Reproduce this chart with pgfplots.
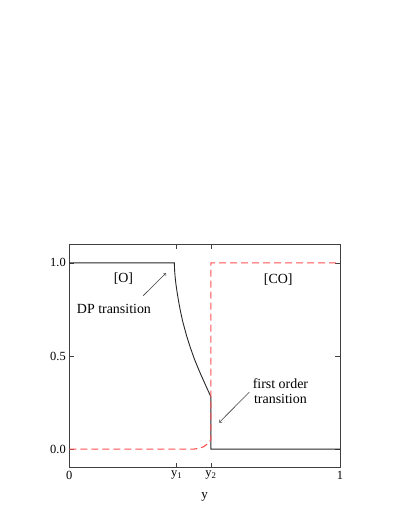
\documentclass[border=0pt]{standalone}
\usepackage{fontspec}
\setmainfont{Liberation Serif}
\usepackage{pgfplots}
\pgfplotsset{compat=1.18}
\definecolor{codash}{HTML}{FF5050}

\begin{document}
\begin{tikzpicture}
\useasboundingbox (0,0) rectangle (409bp,529bp);
\begin{axis}[
    at={(69.3bp,61.3bp)}, anchor=south west,
    width=270.7bp, height=223.4bp, scale only axis,
    xmin=0, xmax=1, ymin=-0.1, ymax=1.1,
    xtick={0,0.397,0.523,1},
    xticklabels={0,y\textsubscript{1},y\textsubscript{2},1},
    ytick={0,0.5,1},
    yticklabels={0.0,0.5,1.0},
    tick align=inside,
    major tick length=5bp,
    tick style={black!75, line width=0.6bp},
    tick label style={font=\fontsize{12.5}{14}\selectfont},
    axis line style={black!75, line width=0.8bp},
    xlabel={y},
    xlabel style={font=\fontsize{13}{15}\selectfont, at={(axis description cs:0.5,0)}, anchor=center, yshift=-29bp},
    clip=false,
]
% black: order parameter [O]
\addplot[black!85, line width=0.9bp] coordinates {
    (0,1) (0.388,1) (0.389,0.96) (0.391,0.924) (0.394,0.885) (0.398,0.845)
    (0.403,0.80) (0.410,0.745) (0.419,0.685) (0.433,0.61) (0.446,0.55)
    (0.463,0.48) (0.483,0.41) (0.503,0.345) (0.520,0.29) (0.523,0.28)
    (0.523,0) (1,0)
};
% red dashed: [CO]
\addplot[codash, line width=1.1bp, dash pattern=on 7bp off 4bp] coordinates {
    (0,0) (0.460,0) (0.480,0.004) (0.495,0.012) (0.508,0.025)
    (0.518,0.040) (0.523,0.05) (0.523,1) (1,1)
};
\node[font=\fontsize{14}{16}\selectfont] at (axis cs:0.20,0.918) {[O]};
\node[font=\fontsize{14}{16}\selectfont] at (axis cs:0.165,0.754) {DP transition};
\draw[->, black!75, line width=0.6bp] (axis cs:0.273,0.824) -- (axis cs:0.357,0.945);
\node[font=\fontsize{14}{16}\selectfont] at (axis cs:0.772,0.909) {[CO]};
\node[font=\fontsize{14}{16}\selectfont, align=center] at (axis cs:0.78,0.311) {first order\\transition};
\draw[->, black!75, line width=0.6bp] (axis cs:0.665,0.306) -- (axis cs:0.554,0.143);
\end{axis}
\end{tikzpicture}
\end{document}
